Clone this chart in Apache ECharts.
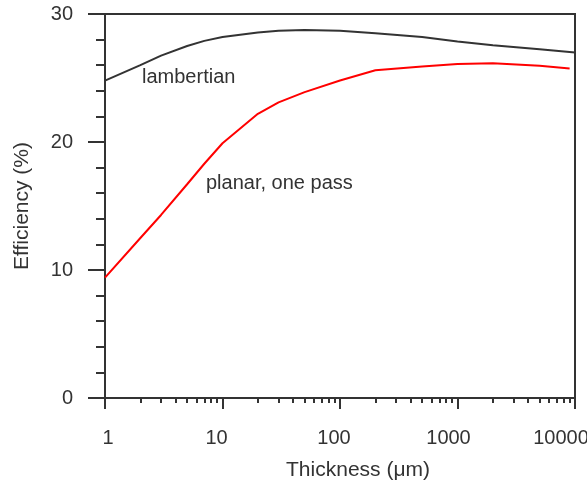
<!DOCTYPE html>
<html>
<head>
<meta charset="utf-8">
<script src="https://cdn.jsdelivr.net/npm/echarts@6/dist/echarts.min.js"></script>
<style>
  html, body { margin: 0; padding: 0; background: #fff; }
  #chart { width: 587px; height: 489px; }
</style>
</head>
<body>
<div id="chart"></div>
<script>
// thickness (um) and efficiency (%)
var thicknessLam = [1, 2, 3, 5, 7, 10, 20, 30, 50, 100, 200, 500, 1000, 2000, 5000, 10000];
var lambertian = [24.8, 26.0, 26.75, 27.5, 27.9, 28.2, 28.55, 28.7, 28.75, 28.7, 28.5, 28.2, 27.85, 27.55, 27.25, 27.0];
var thicknessPlanar = [1, 2, 3, 5, 7, 10, 20, 30, 50, 100, 200, 500, 1000, 2000, 5000, 9000];
var planar = [9.4, 12.5, 14.3, 16.7, 18.3, 19.9, 22.2, 23.1, 23.9, 24.8, 25.6, 25.9, 26.1, 26.15, 25.95, 25.75];

var yTicks = [0, 10, 20, 30];
var xTickLabels = ['1', '10', '100', '1000', '10000'];

// minor ticks 2..9 in every decade
var minorX = [];
for (var d = 1; d < 10000; d *= 10) {
    for (var k = 2; k <= 9; k++) minorX.push(k * d);
}

function pairs(xs, ys) {
    return xs.map(function (x, i) { return [x, ys[i]]; });
}

var ink = '#333';
var font = "'Liberation Sans', Arial, sans-serif";

// little nudges so the tick labels sit where the original has them
var labelShift = { '1': 3, '10': -6, '100': -6, '1000': -9, '10000': -14 };
var rich = {};
xTickLabels.forEach(function (t, i) {
    var s = labelShift[t];
    rich['t' + i] = {
        fontSize: 20, fontFamily: font, color: ink,
        padding: s > 0 ? [0, 0, 0, 2 * s] : [0, -2 * s, 0, 0]
    };
});

var myChart = echarts.init(document.getElementById('chart'));
myChart.setOption({
    animation: false,
    grid: {
        left: 105, right: 12, top: 14, bottom: 91,
        outerBoundsMode: 'none', containLabel: false,
        show: true, borderColor: ink, borderWidth: 2
    },
    xAxis: [
        {
            type: 'log', logBase: 10, min: 1, max: 10000,
            name: 'Thickness (\u03bcm)', nameLocation: 'middle', nameGap: 62,
            nameTextStyle: { fontSize: 21, fontFamily: font, color: ink, padding: [0, 0, 0, 36] },
            axisLine: { lineStyle: { color: ink, width: 2 } },
            axisTick: { length: 11, lineStyle: { color: ink, width: 2 } },
            axisLabel: {
                margin: 30,
                formatter: function (v) {
                    var i = xTickLabels.indexOf(String(Math.round(v)));
                    return i < 0 ? '' : '{t' + i + '|' + xTickLabels[i] + '}';
                },
                rich: rich
            },
            splitLine: { show: false }
        },
        {
            type: 'log', logBase: 10, min: 1, max: 10000, position: 'bottom',
            axisLine: { show: false },
            axisLabel: { show: false },
            axisTick: { customValues: minorX, length: 5, lineStyle: { color: ink, width: 2 } },
            splitLine: { show: false }
        }
    ],
    yAxis: {
        type: 'value', min: 0, max: 30, interval: 10,
        name: 'Efficiency (%)', nameLocation: 'middle', nameGap: 72,
        nameTextStyle: { fontSize: 21, fontFamily: font, color: ink },
        axisLine: { show: true, lineStyle: { color: ink, width: 2 } },
        axisTick: { show: true, length: 17, lineStyle: { color: ink, width: 2 } },
        minorTick: { show: true, splitNumber: 5, length: 9, lineStyle: { color: ink, width: 2 } },
        axisLabel: {
            margin: 32, fontSize: 20, fontFamily: font, color: ink,
            formatter: function (v) { return yTicks.indexOf(v) >= 0 ? String(v) : ''; }
        },
        splitLine: { show: false },
        minorSplitLine: { show: false }
    },
    series: [
        {
            name: 'lambertian', type: 'line', smooth: false, symbol: 'none',
            lineStyle: { color: ink, width: 2 },
            data: pairs(thicknessLam, lambertian)
        },
        {
            name: 'planar, one pass', type: 'line', smooth: false, symbol: 'none',
            lineStyle: { color: '#ff0000', width: 2 },
            data: pairs(thicknessPlanar, planar)
        }
    ],
    graphic: [
        {
            type: 'text', left: 142, top: 67,
            style: { text: 'lambertian', fontSize: 20, fontFamily: font, fill: ink }
        },
        {
            type: 'text', left: 206, top: 173,
            style: { text: 'planar, one pass', fontSize: 20, fontFamily: font, fill: ink }
        }
    ]
});
</script>
</body>
</html>
